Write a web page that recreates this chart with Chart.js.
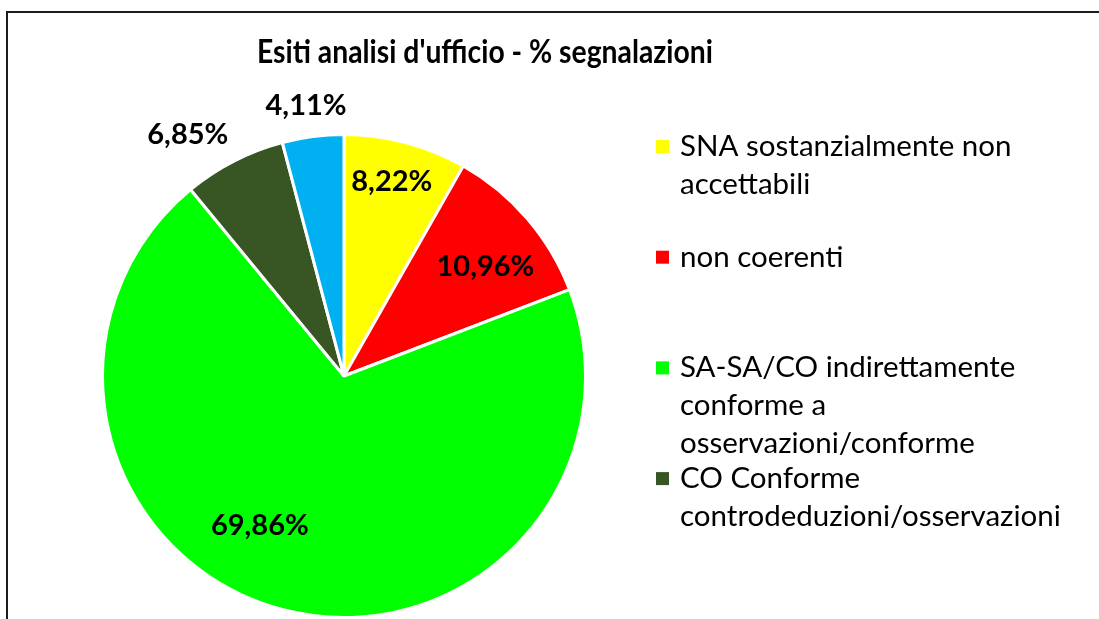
<!DOCTYPE html>
<html lang="it">
<head>
<meta charset="utf-8">
<title>Esiti analisi d'ufficio</title>
<script src="https://cdn.jsdelivr.net/npm/chart.js@4.4.1/dist/chart.umd.min.js"></script>
<style>
  html, body { margin: 0; padding: 0; background: #ffffff; }
  #wrap { position: relative; width: 1099px; height: 619px; }
</style>
</head>
<body>
<div id="wrap"><canvas id="esitiChart"></canvas></div>
<script>
const chartTitle = "Esiti analisi d'ufficio - % segnalazioni";
const categories = [
  "SNA sostanzialmente non accettabili",
  "non coerenti",
  "SA-SA/CO indirettamente conforme a osservazioni/conforme",
  "CO Conforme controdeduzioni/osservazioni",
  "Altro",
];
const shares = [8.22, 10.96, 69.86, 6.85, 4.11];
const sliceColors = ["#ffff00", "#ff0000", "#00ff00", "#375623", "#00b0f0"];

const FONT = "Lato, 'Open Sans', sans-serif";

// where each value label sits: fraction of the radius, and a small angle nudge (deg)
const labelPlacement = [
  { r: 0.83, shift: -1 },
  { r: 0.74, shift: 3 },
  { r: 0.71, shift: 14.6 },
  { r: 1.19, shift: -5.8 },
  { r: 1.13, shift: -0.6 },
];

function formatShare(v) {
  return v.toFixed(2).replace(".", ",") + "%";
}

function wrapWords(ctx, text, maxWidth) {
  const words = text.split(" ");
  const lines = [];
  let line = "";
  words.forEach((w) => {
    const test = line ? line + " " + w : w;
    if (line && ctx.measureText(test).width > maxWidth) {
      lines.push(line);
      line = w;
    } else {
      line = test;
    }
  });
  if (line) lines.push(line);
  return lines;
}

const framePlugin = {
  id: "framePlugin",
  beforeDraw(chart) {
    const { ctx } = chart;
    ctx.save();
    ctx.strokeStyle = "#1c1c1c";
    ctx.lineWidth = 2;
    ctx.beginPath();
    ctx.moveTo(7, 640);
    ctx.lineTo(7, 12);
    ctx.lineTo(1120, 12);
    ctx.stroke();
    ctx.restore();
  },
};

const titlePlugin = {
  id: "titlePlugin",
  afterDraw(chart) {
    const { ctx } = chart;
    // Calibri-like proportions: taller glyphs, a bit narrower
    ctx.save();
    ctx.translate(485, 63);
    ctx.scale(0.885, 1);
    ctx.font = "bold 32px " + FONT;
    ctx.fillStyle = "#000000";
    ctx.textAlign = "center";
    ctx.textBaseline = "alphabetic";
    ctx.fillText(chartTitle, 0, 0);
    ctx.restore();
  },
};

const valueLabelPlugin = {
  id: "valueLabelPlugin",
  afterDatasetsDraw(chart) {
    const { ctx } = chart;
    const meta = chart.getDatasetMeta(0);
    const size = 29;
    ctx.save();
    ctx.font = "bold " + size + "px " + FONT;
    ctx.fillStyle = "#000000";
    ctx.textAlign = "center";
    ctx.textBaseline = "alphabetic";
    meta.data.forEach((arc, i) => {
      const p = arc.getProps(["x", "y", "startAngle", "endAngle", "outerRadius"], true);
      const place = labelPlacement[i];
      const mid = (p.startAngle + p.endAngle) / 2 + (place.shift * Math.PI) / 180;
      const r = p.outerRadius * place.r;
      const x = p.x + Math.cos(mid) * r;
      const y = p.y + Math.sin(mid) * r;
      ctx.fillText(formatShare(shares[i]), x, y + size * 0.33);
    });
    ctx.restore();
  },
};

const sideLegendPlugin = {
  id: "sideLegendPlugin",
  afterDraw(chart) {
    const { ctx } = chart;
    const boxX = 656;
    const textX = 680;
    const firstBaseline = 156;
    const itemStep = 110.7;
    const lineHeight = 38;
    const bottomLimit = 560;
    ctx.save();
    ctx.font = "29.5px " + FONT;
    ctx.textAlign = "left";
    ctx.textBaseline = "alphabetic";
    categories.forEach((label, i) => {
      const baseline = firstBaseline + i * itemStep;
      const lines = wrapWords(ctx, label, 400);
      if (baseline + (lines.length - 1) * lineHeight > bottomLimit) {
        return;
      }
      ctx.fillStyle = sliceColors[i];
      ctx.fillRect(boxX, baseline - 16, 13, 13);
      ctx.fillStyle = "#000000";
      lines.forEach((ln, k) => ctx.fillText(ln, textX, baseline + k * lineHeight));
    });
    ctx.restore();
  },
};

new Chart(document.getElementById("esitiChart"), {
  type: "pie",
  data: {
    labels: categories,
    datasets: [
      {
        data: shares,
        backgroundColor: sliceColors,
        borderColor: "#ffffff",
        borderWidth: 3,
      },
    ],
  },
  options: {
    responsive: true,
    maintainAspectRatio: false,
    animation: false,
    layout: { padding: { left: 101, top: 133, right: 512, bottom: 0 } },
    plugins: {
      legend: { display: false },
      title: { display: false },
      tooltip: { enabled: false },
    },
  },
  plugins: [framePlugin, valueLabelPlugin, titlePlugin, sideLegendPlugin],
});
</script>
</body>
</html>
